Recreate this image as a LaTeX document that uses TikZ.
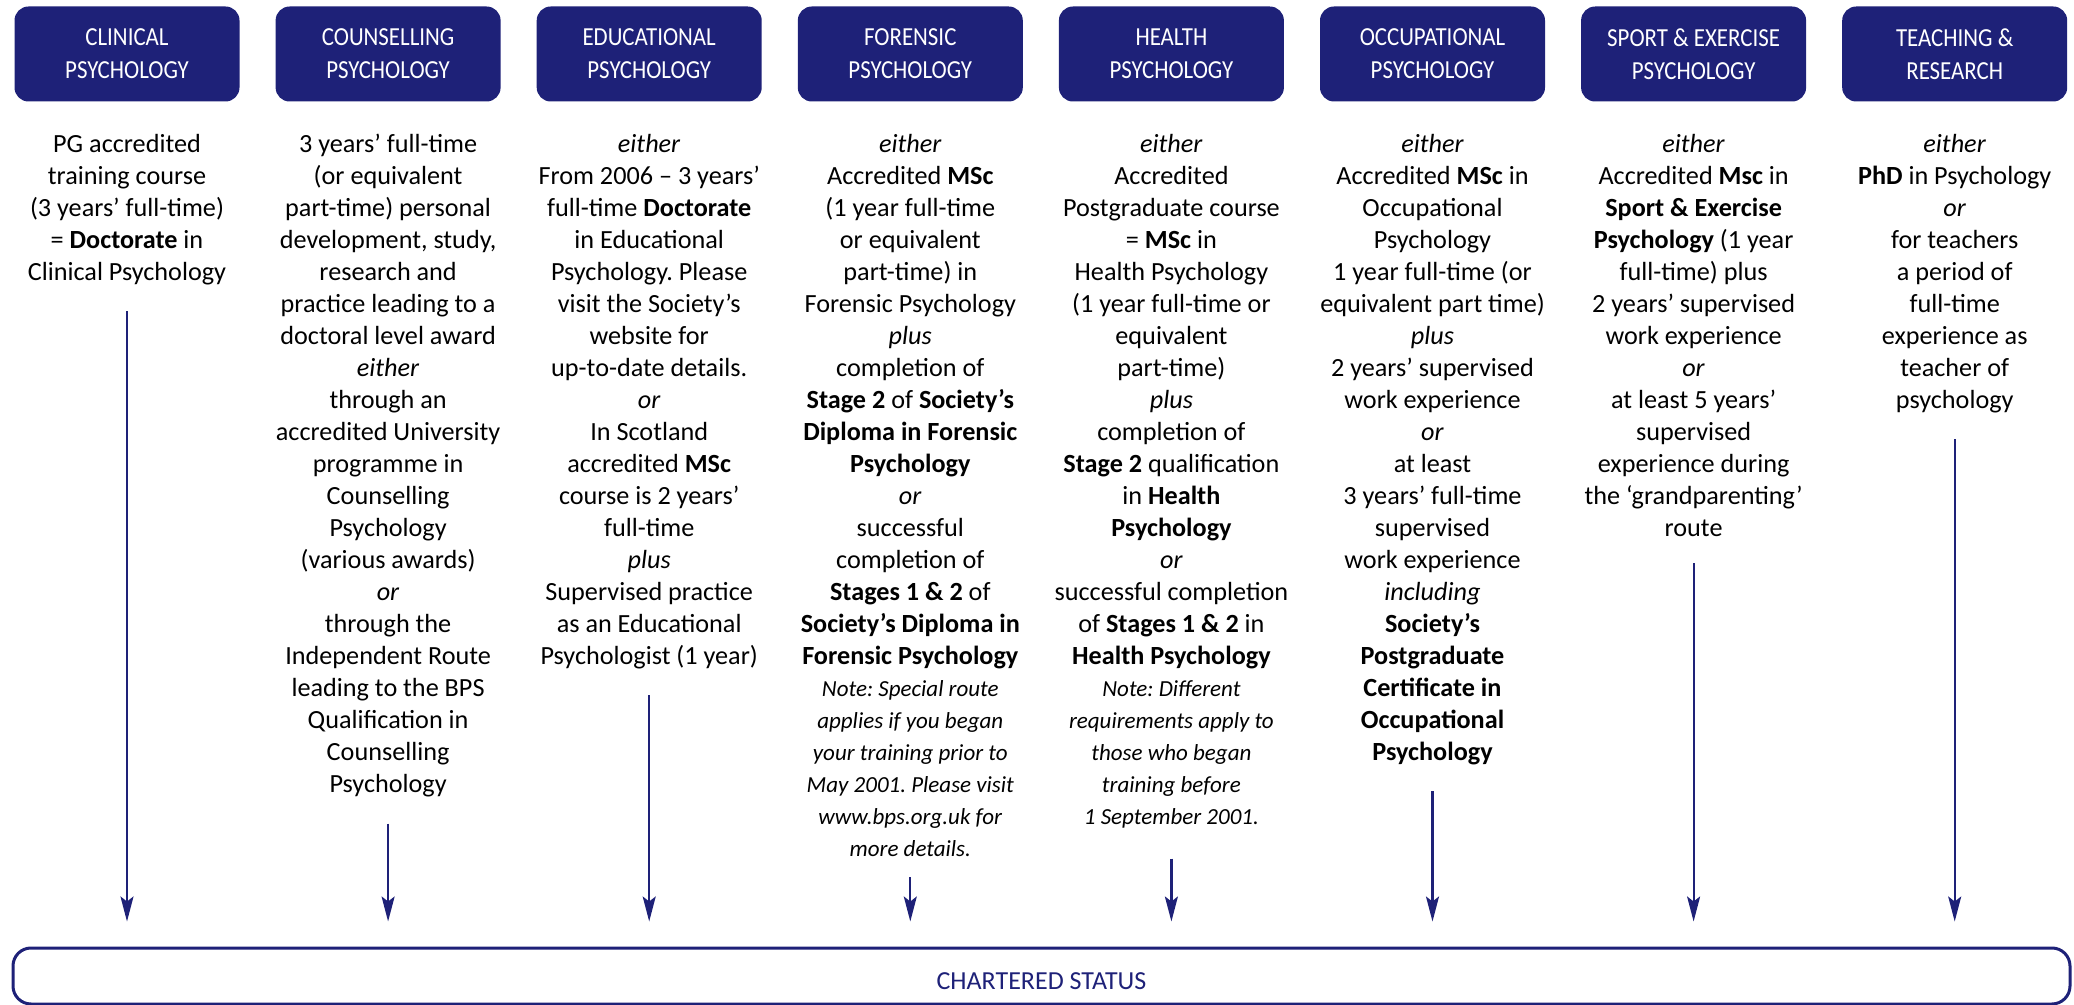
\documentclass[tikz,border=0pt]{standalone}
\usepackage{fontspec}
\setmainfont{Carlito}
\newfontfamily\headfont[FakeStretch=0.88]{Carlito}
\usetikzlibrary{positioning,arrows.meta}
\definecolor{bpsblue}{RGB}{30,33,120}
\newcommand{\nt}[1]{{\fontsize{11.5}{16}\selectfont\itshape #1}}
\frenchspacing

\begin{document}
\begin{tikzpicture}[node distance=16pt and 17.65pt,
	head/.style={fill=bpsblue, text=white, rounded corners=7pt, minimum width=112.5pt, minimum height=47.5pt, align=center, font=\headfont\fontsize{13}{16.5}\selectfont},
	body/.style={align=center, inner sep=0pt, font=\fontsize{13.1}{16}\selectfont},
	status/.style={draw=bpsblue, line width=1.5pt, rounded corners=9pt, minimum width=1028.5pt, minimum height=28pt, text height=13.5pt, text depth=0pt, text=bpsblue, font=\fontsize{13}{16}\selectfont},
	flow/.style={-{Stealth[length=12.5pt,width=6.5pt,inset=2.5pt]}, draw=bpsblue, line width=1.1pt, shorten >=12.5pt}]
	\useasboundingbox (0,0) rectangle (1037pt,-502.5pt);

	\node[head] (clin) at (63.5pt,-27pt) {CLINICAL\\PSYCHOLOGY};
	\node[head] (coun) [right=of clin]{COUNSELLING\\PSYCHOLOGY};
	\node[head] (educ) [right=of coun]{EDUCATIONAL\\PSYCHOLOGY};
	\node[head] (fore) [right=of educ]{FORENSIC\\PSYCHOLOGY};
	\node[head] (heal) [right=of fore]{HEALTH\\PSYCHOLOGY};
	\node[head] (occu) [right=of heal]{OCCUPATIONAL\\PSYCHOLOGY};
	\node[head] (spor) [right=of occu]{SPORT \& EXERCISE\\PSYCHOLOGY};
	\node[head] (teac) [right=of spor]{TEACHING \&\\RESEARCH};

	\node[body] (clinT) [below=of clin]{PG accredited\\training course\\(3 years' full-time)\\= \textbf{Doctorate} in\\Clinical Psychology};
	\node[body] (counT) [below=of coun]{3 years' full-time\\(or equivalent\\part-time) personal\\development, study,\\research and\\practice leading to a\\doctoral level award\\\textit{either}\\through an\\accredited University\\programme in\\Counselling\\Psychology\\(various awards)\\\textit{or}\\through the\\Independent Route\\leading to the BPS\\Qualification in\\Counselling\\Psychology};
	\node[body] (educT) [below=of educ]{\textit{either}\\From 2006 -- 3 years'\\full-time \textbf{Doctorate}\\in Educational\\Psychology. Please\\visit the Society's\\website for\\up-to-date details.\\\textit{or}\\In Scotland\\accredited \textbf{MSc}\\course is 2 years'\\full-time\\\textit{plus}\\Supervised practice\\as an Educational\\Psychologist (1 year)};
	\node[body] (foreT) [below=of fore]{\textit{either}\\Accredited \textbf{MSc}\\(1 year full-time\\or equivalent\\part-time) in\\Forensic Psychology\\\textit{plus}\\completion of\\\textbf{Stage 2} of \textbf{Society's}\\\textbf{Diploma in Forensic}\\\textbf{Psychology}\\\textit{or}\\successful\\completion of\\\textbf{Stages 1 \& 2} of\\\textbf{Society's Diploma in}\\\textbf{Forensic Psychology}\\\nt{Note: Special route}\\\nt{applies if you began}\\\nt{your training prior to}\\\nt{May 2001. Please visit}\\\nt{www.bps.org.uk for}\\\nt{more details.}};
	\node[body] (healT) [below=of heal]{\textit{either}\\Accredited\\Postgraduate course\\= \textbf{MSc} in\\Health Psychology\\(1 year full-time or\\equivalent\\part-time)\\\textit{plus}\\completion of\\\textbf{Stage 2} qualification\\in \textbf{Health}\\\textbf{Psychology}\\\textit{or}\\successful completion\\of \textbf{Stages 1 \& 2} in\\\textbf{Health Psychology}\\\nt{Note: Different}\\\nt{requirements apply to}\\\nt{those who began}\\\nt{training before}\\\nt{1 September 2001.}};
	\node[body] (occuT) [below=of occu]{\textit{either}\\Accredited \textbf{MSc} in\\Occupational\\Psychology\\1 year full-time (or\\equivalent part time)\\\textit{plus}\\2 years' supervised\\work experience\\\textit{or}\\at least\\3 years' full-time\\supervised\\work experience\\\textit{including}\\\textbf{Society's}\\\textbf{Postgraduate}\\\textbf{Certificate in}\\\textbf{Occupational}\\\textbf{Psychology}};
	\node[body] (sporT) [below=of spor]{\textit{either}\\Accredited \textbf{Msc} in\\\textbf{Sport \& Exercise}\\\textbf{Psychology} (1 year\\full-time) plus\\2 years' supervised\\work experience\\\textit{or}\\at least 5 years'\\supervised\\experience during\\the `grandparenting'\\route};
	\node[body] (teacT) [below=of teac]{\textit{either}\\\textbf{PhD} in Psychology\\\textit{or}\\for teachers\\a period of\\full-time\\experience as\\teacher of\\psychology};

	\node[status] (chart) at (520.75pt,-488pt) {CHARTERED STATUS};

	\draw[flow] ([yshift=-13pt]clinT.south) -- (clinT.south |- chart.north);
	\draw[flow] ([yshift=-13pt]counT.south) -- (counT.south |- chart.north);
	\draw[flow] ([yshift=-13pt]educT.south) -- (educT.south |- chart.north);
	\draw[flow] ([yshift=-10pt]foreT.south) -- (foreT.south |- chart.north);
	\draw[flow] ([yshift=-15pt]healT.south) -- (healT.south |- chart.north);
	\draw[flow] ([yshift=-13pt]occuT.south) -- (occuT.south |- chart.north);
	\draw[flow] ([yshift=-13pt]sporT.south) -- (sporT.south |- chart.north);
	\draw[flow] ([yshift=-13pt]teacT.south) -- (teacT.south |- chart.north);

\end{tikzpicture}
\end{document}
